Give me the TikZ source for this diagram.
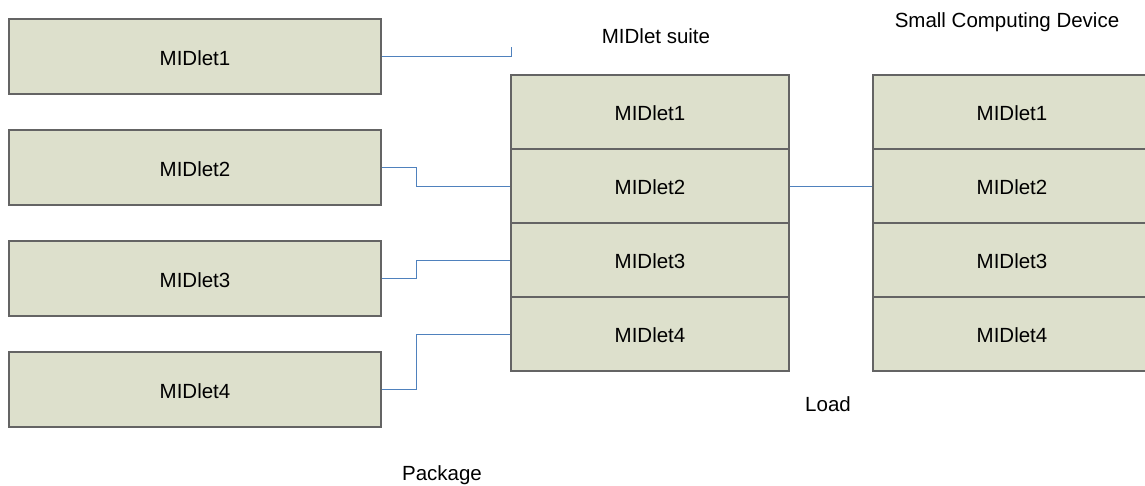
\documentclass[tikz,border=0pt]{standalone}
\usepackage{fontspec}
\setmainfont{Liberation Sans}
\definecolor{boxfill}{RGB}{221,224,204}
\definecolor{boxline}{RGB}{100,100,100}
\definecolor{conn}{RGB}{79,129,189}
\tikzset{
  cell/.style={draw=boxline, line width=1.2pt, fill=boxfill, rectangle, inner sep=0pt,
    text height=17.7pt, text depth=0pt, font=\fontsize{20.5}{23}\selectfont},
  lbox/.style={cell, minimum width=372pt, minimum height=75pt},
  scell/.style={cell, minimum width=278pt, minimum height=74pt},
  lbl/.style={inner sep=0pt, text height=17.7pt, text depth=0pt, font=\fontsize{20.5}{23}\selectfont},
  wire/.style={draw=conn, line width=1pt}
}
\begin{document}
\begin{tikzpicture}[x=1pt, y=-1pt]
\clip (0,0) rectangle (1145,485);
\fill[white] (0,0) rectangle (1145,485);
% left boxes
\node[lbox] (L1) at (195,56.5) {MIDlet1};
\node[lbox] (L2) at (195,167.5) {MIDlet2};
\node[lbox] (L3) at (195,278.5) {MIDlet3};
\node[lbox] (L4) at (195,389.5) {MIDlet4};
% middle stack
\node[scell] (M1) at (650,112) {MIDlet1};
\node[scell] (M2) at (650,186) {MIDlet2};
\node[scell] (M3) at (650,260) {MIDlet3};
\node[scell] (M4) at (650,334) {MIDlet4};
% right stack
\node[scell] (R1) at (1012,112) {MIDlet1};
\node[scell] (R2) at (1012,186) {MIDlet2};
\node[scell] (R3) at (1012,260) {MIDlet3};
\node[scell] (R4) at (1012,334) {MIDlet4};
% labels
\node[lbl] (suite) at (656,34.5) {MIDlet suite};
\node[lbl] (scd) at (1007,19) {Small Computing Device};
\node[lbl] (load) at (828,402.5) {Load};
\node[lbl] (pkg) at (442,472) {Package};
% connectors
\coordinate (t1) at (511,47);
\draw[wire] (L1.east) -| (t1);
\draw[wire] (L2.east) -- ++(35,0) |- (M2.west);
\draw[wire] (L3.east) -- ++(35,0) |- (M3.west);
\draw[wire] (L4.east) -- ++(35,0) |- (M4.west);
\draw[wire] (M2.east) -- (R2.west);
\end{tikzpicture}
\end{document}
